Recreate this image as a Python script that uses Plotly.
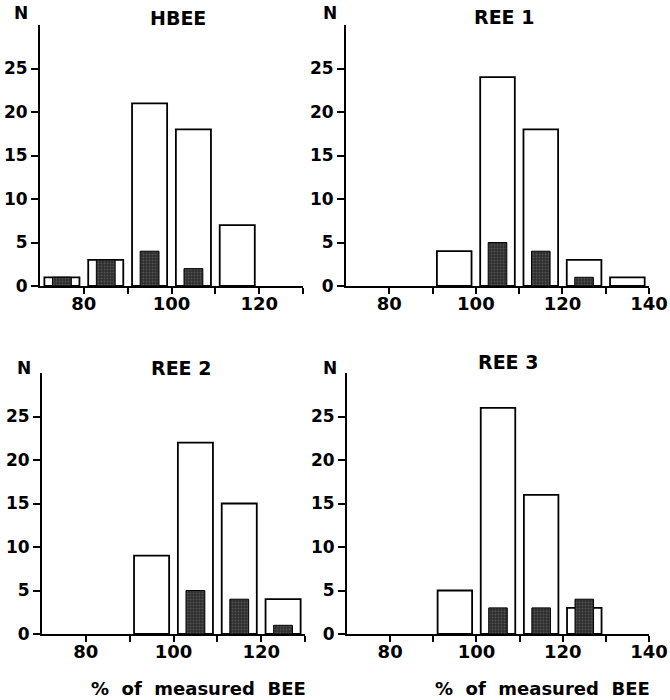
import plotly.graph_objects as go

# ---- data ----
panel_titles = ["HBEE", "REE 1", "REE 2", "REE 3"]
hbee_bins = [75, 85, 95, 105, 115]
hbee_all = [1, 3, 21, 18, 7]
hbee_dark = [1, 3, 4, 2, 0]

ree1_bins = [95, 105, 115, 125, 135]
ree1_all = [4, 24, 18, 3, 1]
ree1_dark = [0, 5, 4, 1, 0]

ree2_bins = [95, 105, 115, 125]
ree2_all = [9, 22, 15, 4]
ree2_dark = [0, 5, 4, 1]

ree3_bins = [95, 105, 115, 125]
ree3_all = [5, 26, 16, 3]
ree3_dark = [0, 3, 3, 4]

y_ticks = [0, 5, 10, 15, 20, 25]
x_ticks_short = [80, 90, 100, 110, 120, 130]
x_ticks_long = [80, 90, 100, 110, 120, 130, 140]
x_axis_title = "%\u00a0\u00a0of\u00a0\u00a0measured\u00a0\u00a0BEE"

W, H = 670, 700
FONT = "DejaVu Sans"

panels = [
    dict(bins=hbee_bins, all=hbee_all, dark=hbee_dark, xr=[70, 130], xt=x_ticks_short,
         xpx=(40, 303), ypx=(25, 286), title=(178, 18), n=(21, 13)),
    dict(bins=ree1_bins, all=ree1_all, dark=ree1_dark, xr=[70, 140], xt=x_ticks_long,
         xpx=(346, 649), ypx=(25, 286), title=(504, 17), n=(330, 13)),
    dict(bins=ree2_bins, all=ree2_all, dark=ree2_dark, xr=[70, 130], xt=x_ticks_short,
         xpx=(42, 305), ypx=(373, 634), title=(181, 368), n=(24, 368)),
    dict(bins=ree3_bins, all=ree3_all, dark=ree3_dark, xr=[70, 140], xt=x_ticks_long,
         xpx=(347, 649), ypx=(373, 634), title=(508, 362), n=(330, 368)),
]

fig = go.Figure()
annotations = []
for i, p in enumerate(panels):
    k = "" if i == 0 else str(i + 1)
    xa, ya = "x" + k, "y" + k
    fig.add_trace(go.Bar(x=p["bins"], y=p["all"], width=8, xaxis=xa, yaxis=ya,
                         marker=dict(color="white", line=dict(color="black", width=1.8)),
                         showlegend=False, hoverinfo="skip"))
    dx = [b for b, v in zip(p["bins"], p["dark"]) if v > 0]
    dy = [v for v in p["dark"] if v > 0]
    fig.add_trace(go.Bar(x=dx, y=dy, width=4.3, xaxis=xa, yaxis=ya,
                         marker=dict(color="#3a3a3a", line=dict(color="black", width=1),
                                     pattern=dict(shape=".", fgcolor="#777", bgcolor="#2e2e2e",
                                                  size=3, solidity=0.3)),
                         showlegend=False, hoverinfo="skip"))
    x0, x1 = p["xpx"]
    y0, y1 = p["ypx"]
    ticktext = [str(t) if (t % 20 == 0) else "" for t in p["xt"]]
    fig.update_layout(**{
        "xaxis" + k: dict(domain=[x0 / W, x1 / W], range=p["xr"], anchor=ya,
                           showline=True, linecolor="black", linewidth=2,
                           ticks="outside", ticklen=6, tickwidth=1.5, tickcolor="black",
                           tickvals=p["xt"], ticktext=ticktext, showgrid=False, zeroline=False,
                           automargin=False, ticklabeloverflow="allow", ticklabelstandoff=-6,
                           tickfont=dict(family=FONT, size=18, color="black", weight="bold")),
        "yaxis" + k: dict(domain=[1 - y1 / H, 1 - y0 / H], range=[0, 30], anchor=xa,
                           showline=True, linecolor="black", linewidth=2,
                           ticks="outside", ticklen=7, tickwidth=1.5, tickcolor="black",
                           tickvals=y_ticks, showgrid=False, zeroline=False,
                           automargin=False, ticklabeloverflow="allow",
                           tickfont=dict(family=FONT, size=17, color="black", weight="bold")),
    })
    tx, ty = p["title"]
    annotations.append(dict(text=panel_titles[i], x=tx / W, y=1 - ty / H, xref="paper", yref="paper",
                            showarrow=False, xanchor="center", yanchor="middle",
                            font=dict(family=FONT, size=19, color="black", weight="bold")))
    nx, ny = p["n"]
    annotations.append(dict(text="N", x=nx / W, y=1 - ny / H, xref="paper", yref="paper",
                            showarrow=False, xanchor="center", yanchor="middle",
                            font=dict(family=FONT, size=17, color="black", weight="bold")))

for cx in (198, 542):
    annotations.append(dict(text=x_axis_title, x=cx / W, y=1 - 688 / H, xref="paper", yref="paper",
                            showarrow=False, xanchor="center", yanchor="middle",
                            font=dict(family=FONT, size=18, color="black", weight="bold")))

fig.update_layout(width=W, height=H, margin=dict(l=0, r=0, t=0, b=0),
                  barmode="overlay", plot_bgcolor="white", paper_bgcolor="white",
                  annotations=annotations, hovermode=False)

fig.write_html("out.html", config={"displayModeBar": False},
               post_script="document.body.style.margin='0';")
